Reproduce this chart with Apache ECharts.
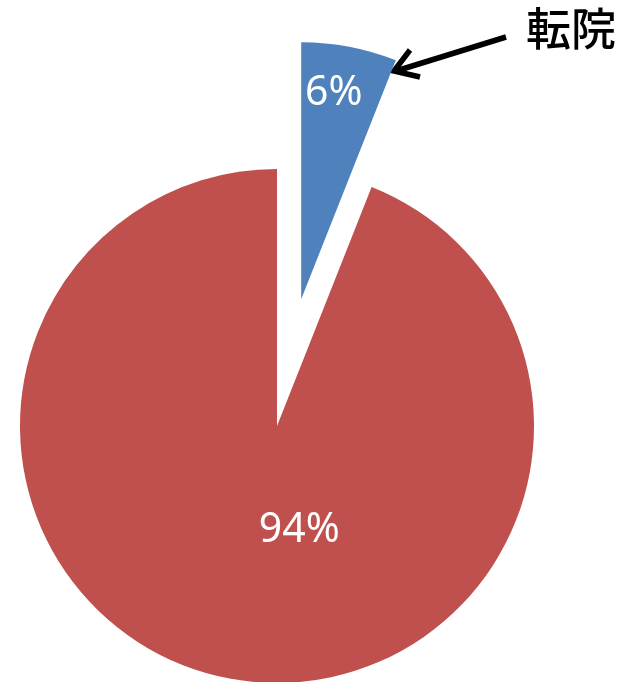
<!DOCTYPE html>
<html>
<head>
<meta charset="utf-8">
<script src="https://cdn.jsdelivr.net/npm/echarts@6/dist/echarts.min.js"></script>
<style>
  html, body { margin: 0; padding: 0; background: #fff; }
  #chart { width: 622px; height: 682px; }
</style>
</head>
<body>
<div id="chart"></div>
<script>
// 数据
const names = ["転院", "その他"];
const values = [6, 94];
const colors = ["#4F81BD", "#C0504D"];
const calloutText = "転院";

// label nudges to match the reference placement
const labelShift = [
  { dx: 8, dy: -77 },
  { dx: 47, dy: -25 }
];

const myChart = echarts.init(document.getElementById("chart"));

let data = values.map((v, i) => ({
  name: names[i],
  value: v,
  selected: i === 0,
  itemStyle: { color: colors[i] }
}));

let option = {
  animation: false,
  series: [
    {
      type: "pie",
      center: [277, 426],
      radius: 257,
      startAngle: 90,
      clockwise: true,
      selectedMode: "single",
      selectedOffset: 129,
      emphasis: { disabled: true },
      label: {
        show: true,
        position: "inside",
        formatter: "{d}%",
        color: "#fff",
        fontSize: 41,
        fontFamily: "Noto Sans"
      },
      labelLayout: function (params) {
        return labelShift[params.dataIndex];
      },
      labelLine: { show: false },
      data: data
    }
  ],
  graphic: [
    {
      type: "text",
      left: 526,
      top: 6,
      style: {
        text: calloutText,
        fill: "#000",
        font: "500 45px 'Noto Sans CJK JP'"
      }
    },
    {
      type: "line",
      shape: { x1: 506, y1: 37, x2: 396, y2: 71 },
      style: { stroke: "#000", lineWidth: 5.5 }
    },
    {
      type: "polyline",
      shape: { points: [[410, 50], [394, 71], [420, 77]] },
      style: { stroke: "#000", lineWidth: 5.5, fill: null, lineJoin: "miter" }
    }
  ]
};

myChart.setOption(option);
</script>
</body>
</html>
